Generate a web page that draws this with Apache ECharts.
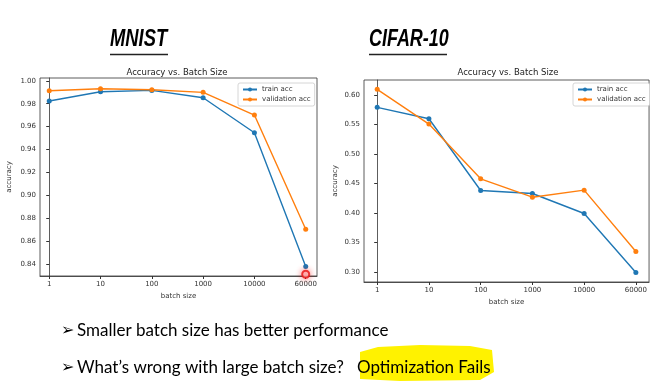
<!DOCTYPE html>
<html>
<head>
<meta charset="utf-8">
<script src="https://cdn.jsdelivr.net/npm/echarts@6/dist/echarts.min.js"></script>
<style>html,body{margin:0;padding:0;background:#fff}#c{width:650px;height:384px}</style>
</head>
<body>
<div id="c"></div>
<script>
// ---- data ----
const batchSizes = ['1', '10', '100', '1000', '10000', '60000'];
const mnistTrain = [0.9823, 0.9904, 0.9916, 0.9852, 0.9547, 0.8380];
const mnistVal   = [0.9913, 0.9930, 0.9922, 0.9899, 0.9701, 0.8705];
const cifarTrain = [0.5791, 0.5598, 0.4382, 0.4331, 0.3991, 0.2990];
const cifarVal   = [0.6097, 0.5508, 0.4579, 0.4268, 0.4387, 0.3346];
const mnistTicks = [0.84, 0.86, 0.88, 0.90, 0.92, 0.94, 0.96, 0.98, 1.00];
const cifarTicks = [0.30, 0.35, 0.40, 0.45, 0.50, 0.55, 0.60];
const cursorMark = [[5, 0.8313]];
const panelTitles = ['MNIST', 'CIFAR-10'];
const chartTitle = 'Accuracy vs. Batch Size';
const bullets = ['Smaller batch size has better performance', 'What\u2019s wrong with large batch size?'];
const highlightText = 'Optimization Fails';

const BLUE = '#1f77b4', ORANGE = '#ff7f0e';
const FONT = 'DejaVu Sans';
const idx = batchSizes.map((_, i) => i);
const pairs = arr => arr.map((v, i) => [i, v]);

function xAxis(gridIndex, min, max) {
  return {
    type: 'value', gridIndex, min, max,
    name: 'batch size', nameLocation: 'middle', nameGap: 17,
    nameTextStyle: { fontFamily: FONT, fontSize: 7, color: '#333' },
    axisLine: { show: true, lineStyle: { color: '#333', width: 0.8 } },
    axisTick: { show: true, length: 3, customValues: idx, lineStyle: { color: '#333' } },
    axisLabel: { customValues: idx, formatter: v => batchSizes[Math.round(v)], fontFamily: FONT, fontSize: 7, color: '#333', margin: 5 },
    splitLine: { show: false }
  };
}
function yAxis(gridIndex, min, max, ticks, gap) {
  return {
    type: 'value', gridIndex, min, max,
    name: 'accuracy', nameLocation: 'middle', nameGap: gap,
    nameTextStyle: { fontFamily: FONT, fontSize: 7, color: '#333' },
    axisLine: { show: true, lineStyle: { color: '#333', width: 0.8 } },
    axisTick: { show: true, length: 3, customValues: ticks, lineStyle: { color: '#333' } },
    axisLabel: { customValues: ticks, formatter: v => v.toFixed(2), fontFamily: FONT, fontSize: 7, color: '#333', margin: 4 },
    splitLine: { show: false }
  };
}
function lineSeries(name, color, data, gi) {
  return {
    type: 'line', name, xAxisIndex: gi, yAxisIndex: gi, data: pairs(data),
    symbol: 'circle', symbolSize: 5, showSymbol: true,
    itemStyle: { color }, lineStyle: { color, width: 1.4 }, animation: false, z: 3
  };
}
function legend(left, top) {
  return {
    orient: 'vertical', left, top, data: ['train acc', 'validation acc'],
    backgroundColor: '#fff', borderColor: '#cccccc', borderWidth: 0.8, borderRadius: 2,
    padding: [3, 4, 3, 4], itemGap: 3, itemWidth: 14, itemHeight: 5,
    textStyle: { fontFamily: FONT, fontSize: 7, color: '#333', padding: [0, 0, 0, 0] }
  };
}
const titleFont = 'italic bold 23px "Liberation Sans", sans-serif';
const bodyFont = '17px Lato, sans-serif';

const chart = echarts.init(document.getElementById('c'));
chart.setOption({
  backgroundColor: '#fff',
  animation: false,
  title: [
    { text: chartTitle, left: 177, top: 68, padding: 0, textAlign: 'center', textStyle: { fontFamily: FONT, fontSize: 8.5, fontWeight: 'normal', color: '#222' } },
    { text: chartTitle, left: 508, top: 68, padding: 0, textAlign: 'center', textStyle: { fontFamily: FONT, fontSize: 8.5, fontWeight: 'normal', color: '#222' } }
  ],
  grid: [
    { left: 40, top: 78, width: 277, height: 198, show: true, borderColor: '#333', borderWidth: 0.8, backgroundColor: '#fff' },
    { left: 364, top: 80, width: 289, height: 202, show: true, borderColor: '#333', borderWidth: 0.8, backgroundColor: '#fff' }
  ],
  xAxis: [xAxis(0, -0.18, 5.22), xAxis(1, -0.255, 5.255)],
  yAxis: [yAxis(0, 0.8298, 1.0024, mnistTicks, 27), yAxis(1, 0.283, 0.6255, cifarTicks, 25)],
  legend: [legend(238, 83), legend(573, 83)],
  series: [
    lineSeries('train acc', BLUE, mnistTrain, 0),
    lineSeries('validation acc', ORANGE, mnistVal, 0),
    lineSeries('train acc', BLUE, cifarTrain, 1),
    lineSeries('validation acc', ORANGE, cifarVal, 1),
    {
      type: 'scatter', name: 'cursor', xAxisIndex: 0, yAxisIndex: 0, data: cursorMark,
      symbol: 'circle', symbolSize: 7, z: 5, silent: true,
      itemStyle: { color: '#ffd0d0', borderColor: '#e81010', borderWidth: 2, shadowBlur: 6, shadowColor: 'rgba(255,0,0,0.6)' }
    }
  ],
  graphic: [
    { type: 'text', x: 110, y: 28, scaleX: 0.8, style: { text: panelTitles[0], font: titleFont, fill: '#000' } },
    { type: 'line', shape: { x1: 110, y1: 54.5, x2: 168, y2: 54.5 }, style: { stroke: '#222', lineWidth: 1.5 } },
    { type: 'text', x: 369, y: 28, scaleX: 0.78, style: { text: panelTitles[1], font: titleFont, fill: '#000' } },
    { type: 'line', shape: { x1: 369, y1: 54.5, x2: 447, y2: 54.5 }, style: { stroke: '#222', lineWidth: 1.5 } },
    { type: 'polygon', shape: { points: [[360, 352], [378, 347], [420, 345], [470, 346], [492, 350], [494, 372], [480, 380], [400, 381], [360, 379]] }, style: { fill: '#fff200' }, z: 1 },
    { type: 'text', x: 61, y: 331, style: { text: '\u27A2', font: '16px "DejaVu Sans"', fill: '#000', verticalAlign: 'middle' } },
    { type: 'text', x: 77, y: 331, style: { text: bullets[0], font: bodyFont, fill: '#000', verticalAlign: 'middle' } },
    { type: 'text', x: 61, y: 368, style: { text: '\u27A2', font: '16px "DejaVu Sans"', fill: '#000', verticalAlign: 'middle' } },
    { type: 'text', x: 77, y: 368, style: { text: bullets[1], font: bodyFont, fill: '#000', verticalAlign: 'middle' } },
    { type: 'text', x: 357, y: 368, z: 2, style: { text: highlightText, font: bodyFont, fill: '#000', verticalAlign: 'middle' } }
  ]
});
</script>
</body>
</html>
